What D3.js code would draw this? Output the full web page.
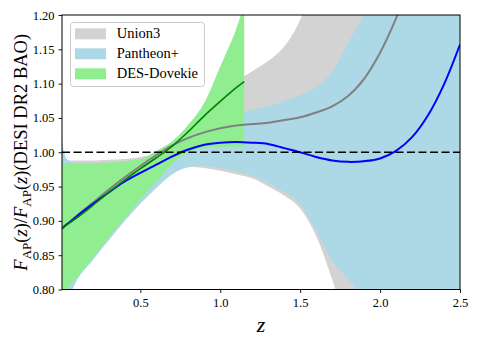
<!DOCTYPE html>
<html>
<head>
<meta charset="utf-8">
<script src="https://cdn.jsdelivr.net/npm/d3@7"></script>
<style>
  html, body { margin: 0; padding: 0; background: #fff; }
  svg { display: block; }
</style>
</head>
<body>
<svg id="chart" width="478" height="345"></svg>
<script>
// ---- data ----
const xTicks = [0.5, 1.0, 1.5, 2.0, 2.5];
const yTicks = [0.80, 0.85, 0.90, 0.95, 1.00, 1.05, 1.10, 1.15, 1.20];
const legendLabels = ["Union3", "Pantheon+", "DES-Dovekie"];

// Union3
const unionZ    = [0.01, 0.05, 0.1, 0.2, 0.3, 0.4, 0.5, 0.6, 0.7, 0.8, 0.9, 1.0, 1.1, 1.2, 1.3, 1.4, 1.5, 1.6, 1.7, 1.8, 1.9, 2.0, 2.1, 2.2, 2.3, 2.4, 2.5];
const unionMid  = [0.889, 0.897, 0.907, 0.926, 0.945, 0.963, 0.980, 0.996, 1.010, 1.021, 1.029, 1.035, 1.039, 1.041, 1.043, 1.047, 1.051, 1.058, 1.067, 1.082, 1.107, 1.145, 1.195, 1.255, 1.32, 1.39, 1.46];
const unionHigh = [0.992, 0.988, 0.988, 0.988, 0.989, 0.990, 0.993, 0.998, 1.008, 1.025, 1.048, 1.075, 1.102, 1.118, 1.133, 1.154, 1.193, 1.26, 1.33, 1.40, 1.50, 1.60, 1.70, 1.80, 1.90, 2.00, 2.10];
const unionLow  = [0.74, 0.79, 0.814, 0.844, 0.873, 0.901, 0.928, 0.952, 0.971, 0.979, 0.977, 0.973, 0.968, 0.962, 0.950, 0.937, 0.918, 0.878, 0.815, 0.74, 0.66, 0.58, 0.50, 0.42, 0.34, 0.26, 0.18];

// Pantheon+
const pantheonZ    = [0.01, 0.015, 0.025, 0.04, 0.07, 0.1, 0.2, 0.3, 0.4, 0.5, 0.6, 0.7, 0.8, 0.9, 1.0, 1.1, 1.2, 1.3, 1.4, 1.5, 1.6, 1.7, 1.8, 1.9, 2.0, 2.1, 2.2, 2.3, 2.4, 2.5];
const pantheonMid  = [0.889, 0.890, 0.892, 0.895, 0.900, 0.906, 0.924, 0.941, 0.957, 0.970, 0.982, 0.994, 1.004, 1.011, 1.014, 1.015, 1.014, 1.012, 1.006, 1.000, 0.993, 0.988, 0.986, 0.987, 0.991, 1.002, 1.022, 1.054, 1.099, 1.157];
const pantheonHigh = [1.030, 1.012, 0.998, 0.990, 0.986, 0.984, 0.983, 0.983, 0.984, 0.986, 0.992, 1.002, 1.015, 1.028, 1.041, 1.054, 1.062, 1.067, 1.075, 1.083, 1.095, 1.118, 1.159, 1.205, 1.28, 1.36, 1.44, 1.52, 1.60, 1.70];
const pantheonLow  = [0.72, 0.73, 0.75, 0.775, 0.797, 0.812, 0.842, 0.871, 0.899, 0.925, 0.948, 0.968, 0.978, 0.980, 0.977, 0.972, 0.966, 0.955, 0.942, 0.924, 0.886, 0.842, 0.815, 0.785, 0.74, 0.69, 0.64, 0.58, 0.52, 0.46];

// DES-Dovekie
const desZ    = [0.01, 0.05, 0.1, 0.2, 0.3, 0.4, 0.5, 0.6, 0.7, 0.8, 0.9, 1.0, 1.1, 1.15];
const desMid  = [0.889, 0.896, 0.904, 0.922, 0.941, 0.959, 0.976, 0.992, 1.009, 1.030, 1.053, 1.074, 1.094, 1.103];
const desHigh = [0.984, 0.984, 0.984, 0.984, 0.985, 0.987, 0.990, 1.002, 1.016, 1.040, 1.072, 1.125, 1.180, 1.215];
const desLow  = [0.76, 0.802, 0.816, 0.845, 0.875, 0.903, 0.931, 0.957, 0.983, 1.000, 1.006, 1.008, 1.008, 1.008];

const refLine = 1.0;

// ---- layout ----
const FONT = "Liberation Serif";
const svg = d3.select("#chart");
const M = { left: 62, right: 460, top: 15, bottom: 289.5 };
const x = d3.scaleLinear().domain([0.01, 2.5]).range([M.left, M.right]);
const y = d3.scaleLinear().domain([0.80, 1.20]).range([M.bottom, M.top]);

svg.append("defs").append("clipPath").attr("id", "plotclip")
  .append("rect").attr("x", M.left).attr("y", M.top)
  .attr("width", M.right - M.left).attr("height", M.bottom - M.top);

const plot = svg.append("g").attr("clip-path", "url(#plotclip)");

function band(zs, lo, hi, color) {
  const data = zs.map((z, i) => ({ z, lo: lo[i], hi: hi[i] }));
  const area = d3.area().curve(d3.curveMonotoneX)
    .x(d => x(d.z)).y0(d => y(d.lo)).y1(d => y(d.hi));
  plot.append("path").datum(data).attr("d", area).attr("fill", color).attr("stroke", "none");
}
function line(zs, vs, color, w) {
  const data = zs.map((z, i) => ({ z, v: vs[i] }));
  const ln = d3.line().curve(d3.curveCatmullRom.alpha(0.5)).x(d => x(d.z)).y(d => y(d.v));
  plot.append("path").datum(data).attr("d", ln).attr("fill", "none")
    .attr("stroke", color).attr("stroke-width", w).attr("stroke-linejoin", "round");
}

band(unionZ, unionLow, unionHigh, "#d3d3d3");
band(pantheonZ, pantheonLow, pantheonHigh, "#add8e6");
band(desZ, desLow, desHigh, "#90ee90");

line(unionZ, unionMid, "#808080", 2);
line(pantheonZ, pantheonMid, "#0000ff", 2);
line(desZ, desMid, "#008000", 1.6);

plot.append("line")
  .attr("x1", M.left).attr("x2", M.right)
  .attr("y1", y(refLine)).attr("y2", y(refLine))
  .attr("stroke", "#000").attr("stroke-width", 1.6)
  .attr("stroke-dasharray", "8,3.5");

// ---- axes ----
const xAxis = d3.axisBottom(x).tickValues(xTicks).tickFormat(d3.format(".1f")).tickSizeOuter(0).tickSize(3.5).tickPadding(5);
const yAxis = d3.axisLeft(y).tickValues(yTicks).tickFormat(d3.format(".2f")).tickSizeOuter(0).tickSize(3.5).tickPadding(4);

const gx = svg.append("g").attr("transform", `translate(0,${M.bottom})`).call(xAxis);
const gy = svg.append("g").attr("transform", `translate(${M.left},0)`).call(yAxis);
[gx, gy].forEach(g => {
  g.attr("font-family", null).attr("font-size", null);
  g.select(".domain").remove();
  g.selectAll(".tick line").attr("stroke", "#000").attr("stroke-width", 0.9);
  g.selectAll(".tick text")
    .attr("font-family", FONT)
    .style("font-family", FONT)
    .attr("font-size", 12.5)
    .attr("fill", "#000");
});

// frame
svg.append("rect").attr("x", M.left).attr("y", M.top)
  .attr("width", M.right - M.left).attr("height", M.bottom - M.top)
  .attr("fill", "none").attr("stroke", "#000").attr("stroke-width", 1);

// axis labels
svg.append("text").attr("x", (M.left + M.right) / 2).attr("y", 332)
  .attr("text-anchor", "middle").attr("font-size", 22).attr("font-style", "italic")
  .style("font-family", FONT).text("z");

const yl = svg.append("text")
  .attr("transform", `translate(27,${(M.top + M.bottom) / 2}) rotate(-90)`)
  .attr("text-anchor", "middle").attr("font-size", 18.5).style("font-family", FONT);
function addF() {
  yl.append("tspan").attr("font-style", "italic").text("F");
  yl.append("tspan").attr("font-size", 13).attr("dy", 4).text("AP");
  yl.append("tspan").attr("dy", -4).text("(");
  yl.append("tspan").attr("font-style", "italic").text("z");
  yl.append("tspan").text(")");
}
addF();
yl.append("tspan").text("/");
addF();
yl.append("tspan").text("(DESI DR2 BAO)");

// ---- legend ----
const lg = svg.append("g");
lg.append("rect").attr("x", 70.5).attr("y", 22.5).attr("width", 134).attr("height", 64)
  .attr("rx", 3).attr("fill", "#fff").attr("fill-opacity", 0.8)
  .attr("stroke", "#cccccc").attr("stroke-width", 1);
const legendColors = ["#d3d3d3", "#add8e6", "#90ee90"];
legendLabels.forEach((lab, i) => {
  const yy = 28.3 + i * 20;
  lg.append("rect").attr("x", 75).attr("y", yy).attr("width", 31).attr("height", 11).attr("fill", legendColors[i]);
  lg.append("text").attr("x", 116.7).attr("y", yy + 10).attr("font-size", 14.5)
    .style("font-family", FONT).text(lab);
});
</script>
</body>
</html>
